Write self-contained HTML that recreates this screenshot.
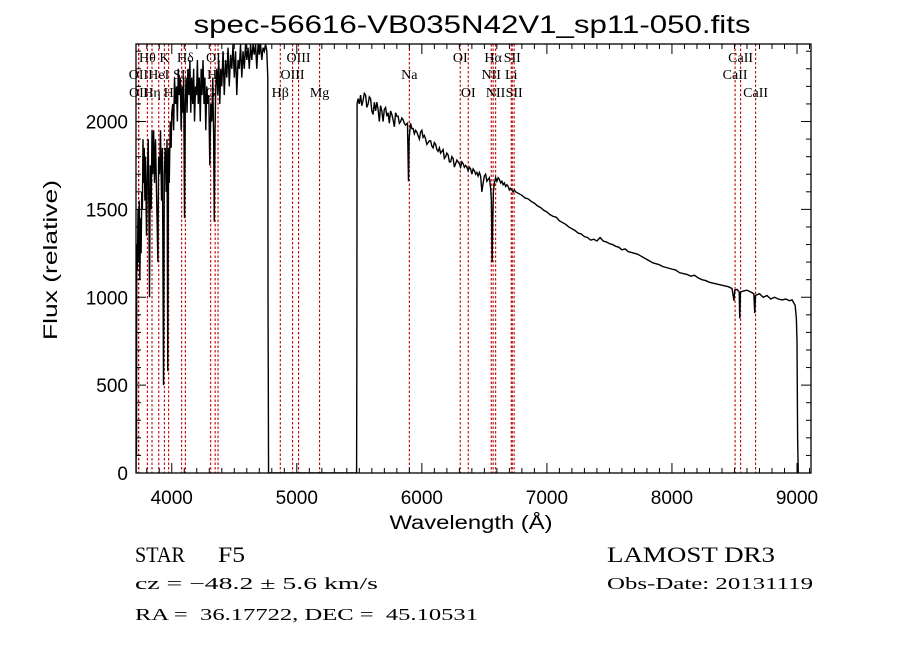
<!DOCTYPE html>
<html><head><meta charset="utf-8"><style>
html,body{margin:0;padding:0;background:#fff;}
svg{display:block;}
text{fill:#000;}
</style></head><body>
<svg id="chart" width="900" height="649" viewBox="0 0 900 649" xmlns="http://www.w3.org/2000/svg">
<rect width="900" height="649" fill="#fff"/>
<text x="472" y="33" text-anchor="middle" font-family="Liberation Sans, sans-serif" font-size="25" textLength="557" lengthAdjust="spacingAndGlyphs">spec-56616-VB035N42V1_sp11-050.fits</text>
<defs><clipPath id="plotclip"><rect x="136" y="44" width="675" height="429"/></clipPath></defs>
<g id="lines"></g>
<g id="labels"></g>
<g clip-path="url(#plotclip)"><path id="spec" fill="none" stroke="#000" stroke-width="1.4"/></g>
<rect x="136" y="44" width="675" height="429" fill="none" stroke="#000" stroke-width="1.3"/>
<g id="ticks"></g>
<text x="471" y="529" text-anchor="middle" font-family="Liberation Sans, sans-serif" font-size="19" textLength="163" lengthAdjust="spacingAndGlyphs">Wavelength (Å)</text>
<text transform="translate(57,260) rotate(-90)" text-anchor="middle" font-family="Liberation Sans, sans-serif" font-size="19" textLength="160" lengthAdjust="spacingAndGlyphs">Flux (relative)</text>
<g font-family="Liberation Serif, serif">
<text x="135" y="562" font-size="22" textLength="50" lengthAdjust="spacingAndGlyphs">STAR</text>
<text x="218" y="562" font-size="22" textLength="27" lengthAdjust="spacingAndGlyphs">F5</text>
<text x="607" y="562" font-size="22" textLength="168" lengthAdjust="spacingAndGlyphs">LAMOST DR3</text>
<text x="135" y="589" font-size="17" textLength="243" lengthAdjust="spacingAndGlyphs">cz = −48.2 ± 5.6 km/s</text>
<text x="607" y="589" font-size="17" textLength="206" lengthAdjust="spacingAndGlyphs">Obs-Date: 20131119</text>
<text x="135" y="620" font-size="17" textLength="343" lengthAdjust="spacingAndGlyphs" xml:space="preserve">RA =  36.17722, DEC =  45.10531</text>
</g>
</svg>
<script>
const waves = [3714,3716,3718,3720,3725,3730,3735,3740,3745,3750,3755,3760,3765,3770,3775,3780,3785,3790,3798,3805,3812,3818,3822,3828,3835,3842,3848,3855,3862,3870,3878,3889,3895,3902,3910,3918,3925,3934,3940,3948,3955,3962,3968,3974,3980,3988,3995,4000,4008,4015,4022,4030,4038,4045,4052,4060,4068,4075,4082,4090,4095,4102,4108,4115,4122,4130,4138,4145,4152,4160,4168,4175,4182,4190,4198,4205,4212,4220,4228,4235,4242,4250,4258,4265,4272,4280,4288,4296,4304,4312,4320,4328,4335,4340,4346,4352,4360,4368,4376,4384,4392,4400,4410,4420,4430,4440,4450,4460,4470,4480,4490,4500,4510,4520,4530,4540,4550,4560,4570,4580,4590,4600,4610,4620,4630,4640,4650,4660,4670,4680,4690,4700,4710,4720,4730,4740,4750,4760,4768,4770,4772,4774,5478,5480,5482,
5490,5500,5510,5520,5530,5540,5550,5560,5570,5580,
5590,5600,5610,5620,5630,5640,5650,5660,5670,5680,
5690,5700,5710,5720,5730,5740,5750,5760,5770,5780,
5790,5800,5810,5820,5830,5840,5850,5860,5870,
5885,5893,5898,
5910,5920,5930,5940,5950,5960,5970,5980,5990,6000,
6010,6020,6030,6040,6050,6060,6070,6080,6090,6100,
6110,6120,6130,6140,6150,6160,6170,6180,6190,6200,
6210,6220,6230,6240,6250,6260,6270,6280,6290,6300,
6310,6320,6330,6340,6350,6360,6370,6380,6390,6400,
6410,6420,6430,6440,6450,6460,6470,6480,6490,6500,
6510,6520,6530,6540,6550,
6556,6562,6566,6572,6580,
6590,6600,6610,6620,6630,6640,6650,6660,6670,6680,6690,6700,6710,6720,6730,6740,
6750,6775,6800,6825,6850,6875,6900,6925,6950,6975,
7000,7025,7050,7075,7100,7125,7150,7175,7200,7225,
7250,7275,7300,7325,7350,7375,7400,7425,7450,7475,
7500,7525,7550,7575,7600,7625,7650,7675,7700,7725,
7750,7775,7800,7825,7850,7875,7900,7925,7950,7975,
8000,
8030,8060,8090,8120,8150,8180,8210,8240,8270,8300,8330,8360,8390,8420,8450,8480,8496,8502,8520,8538,8542,8548,8570,8600,8630,8655,8662,8668,8700,8730,8760,8790,8820,8850,8880,8910,8940,8960,8985,8995,9000,9005,9010];
const flux = [0,600,100,1300,1150,1500,1200,1550,1100,1450,1250,1600,1500,1900,1650,1850,1550,1800,1350,1700,1900,1400,1000,1750,1500,1950,1700,1950,1650,1900,1600,1200,1800,1700,1950,1550,1850,500,1700,1850,1600,1900,580,1850,1650,2000,1850,2050,2100,1950,2250,2100,2200,2000,2300,2150,2250,1950,2200,2050,2250,1450,2100,2250,2050,2300,2150,2350,2050,2250,2100,2300,2000,2200,2150,2350,2100,2250,2000,2300,2150,2350,2100,2250,1950,2200,2100,2150,1750,2100,2000,2250,1900,1430,1950,2200,2300,2150,2350,2100,2300,2200,2400,2150,2350,2250,2420,2200,2380,2300,2440,2250,2400,2150,2350,2300,2440,2250,2400,2300,2440,2350,2420,2300,2440,2350,2440,2380,2440,2300,2440,2380,2440,2350,2420,2400,2440,2400,2250,900,500,0,0,600,2100,
2130,2100,2150,2090,2120,2160,2150,2080,2100,2140,
2130,2060,2040,2110,2060,2110,2070,2000,2090,2060,
2000,2070,2080,2030,2050,1990,2060,2040,2010,1970,
2050,2030,2030,1990,2000,2020,2010,1990,1980,
1990,1660,1900,
1990,1960,1960,1930,1950,1940,1920,1900,1940,1950,
1910,1920,1900,1870,1880,1890,1890,1860,1850,1880,
1870,1840,1830,1850,1820,1830,1840,1790,1800,1820,
1810,1770,1770,1800,1790,1740,1760,1780,1770,1760,
1740,1770,1760,1740,1750,1740,1720,1740,1730,1700,
1730,1720,1700,1710,1690,1710,1690,1600,1650,1690,
1700,1660,1670,1680,1620,
1550,1200,1400,1600,1650,
1680,1660,1680,1670,1650,1660,1640,1650,1630,1640,1630,1610,1620,1610,1600,1610,
1600,1590,1580,1565,1560,1545,1535,1520,1510,1495,
1485,1470,1460,1455,1435,1425,1415,1400,1390,1380,
1365,1360,1345,1340,1325,1330,1320,1340,1320,1315,
1305,1300,1290,1285,1270,1275,1260,1255,1250,1245,
1235,1225,1215,1205,1195,1190,1185,1175,1170,1165,
1160,
1155,1140,1135,1130,1120,1125,1110,1100,1095,1085,1080,1075,1070,1065,1060,1050,980,1040,1045,1030,880,1030,1035,1040,1030,1020,910,1010,1020,1000,1010,990,1000,990,985,990,980,985,955,880,750,200,0];
const lineWaves = [3727,3729,3798,3835,3889,3934,3968,4072,4102,4304,4340,4363,4861,4959,5007,5175,5893,6300,6364,6548,6563,6583,6708,6716,6731,8498,8542,8662];
const lineLabels = ["OII","OII","Hθ","Hη","HeI","K","H","SII","Hδ","G","Hγ","OIII","Hβ","OIII","OIII","Mg","Na","OI","OI","NII","Hα","NII","Li","SII","SII","CaII","CaII","CaII"];
const lineRows = [2,3,1,3,2,1,3,2,1,3,2,1,3,2,1,3,2,1,3,2,1,3,2,1,3,2,1,3];
const xMajorTicks = [4000,5000,6000,7000,8000,9000];
const xTickLabels = ["4000","5000","6000","7000","8000","9000"];
const yMajorTicks = [0,500,1000,1500,2000];
const yTickLabels = ["0","500","1000","1500","2000"];

const X0=136,X1=811,Y0=473,Y1=44;
const WMIN=3714,WMAX=9112,FMIN=0,FMAX=2441;
function xs(w){return X0+(w-WMIN)/(WMAX-WMIN)*(X1-X0);}
function ys(f){return Y0-(f-FMIN)/(FMAX-FMIN)*(Y0-Y1);}
const NS='http://www.w3.org/2000/svg';
function mk(tag,attrs,parent){const e=document.createElementNS(NS,tag);for(const k in attrs)e.setAttribute(k,attrs[k]);parent.appendChild(e);return e;}

let d='';
const n=Math.min(waves.length,flux.length);
for(let i=0;i<n;i++){
  const x=xs(waves[i]).toFixed(2),y=ys(flux[i]).toFixed(2);
  d+=(i?'L':'M')+x+' '+y+' ';
}
document.getElementById('spec').setAttribute('d',d);

const lg=document.getElementById('lines'),lb=document.getElementById('labels');
const rowY={1:62,2:79,3:97};
for(let i=0;i<lineWaves.length;i++){
  const x=xs(lineWaves[i]+7);
  const ln=mk('line',{x1:x,x2:x,y1:Y1,y2:Y0,stroke:'#c00000','stroke-width':1.1,'stroke-dasharray':'2.5,2'},lg);
  
  
  const t=mk('text',{x:x,y:rowY[lineRows[i]],'text-anchor':'middle','font-family':'Liberation Serif, serif','font-size':14},lb);
  t.textContent=lineLabels[i];
  
  
}

const tg=document.getElementById('ticks');
for(let w=3800;w<=9100;w+=100){
  const major=(w%1000===0),len=major?10:5,x=xs(w);
  const a=mk('line',{x1:x,x2:x,y1:Y0,y2:Y0-len,stroke:'#000','stroke-width':1},tg);
  
  
  const b=mk('line',{x1:x,x2:x,y1:Y1,y2:Y1+len,stroke:'#000','stroke-width':1},tg);
  
  
}
for(let f=0;f<=2400;f+=100){
  const major=(f%500===0),len=major?10:5,y=ys(f);
  const a=mk('line',{x1:X0,x2:X0+len,y1:y,y2:y,stroke:'#000','stroke-width':1},tg);
  
  
  const b=mk('line',{x1:X1,x2:X1-len,y1:y,y2:y,stroke:'#000','stroke-width':1},tg);
  
  
}
for(let i=0;i<xMajorTicks.length;i++){
  const t=mk('text',{x:xs(xMajorTicks[i]),y:504,'text-anchor':'middle','font-family':'Liberation Sans, sans-serif','font-size':19},tg);
  t.textContent=xTickLabels[i];
  
  
}
for(let i=0;i<yMajorTicks.length;i++){
  const t=mk('text',{x:128,y:ys(yMajorTicks[i])+7,'text-anchor':'end','font-family':'Liberation Sans, sans-serif','font-size':19},tg);
  t.textContent=yTickLabels[i];
  
  
}
</script>
</body></html>
